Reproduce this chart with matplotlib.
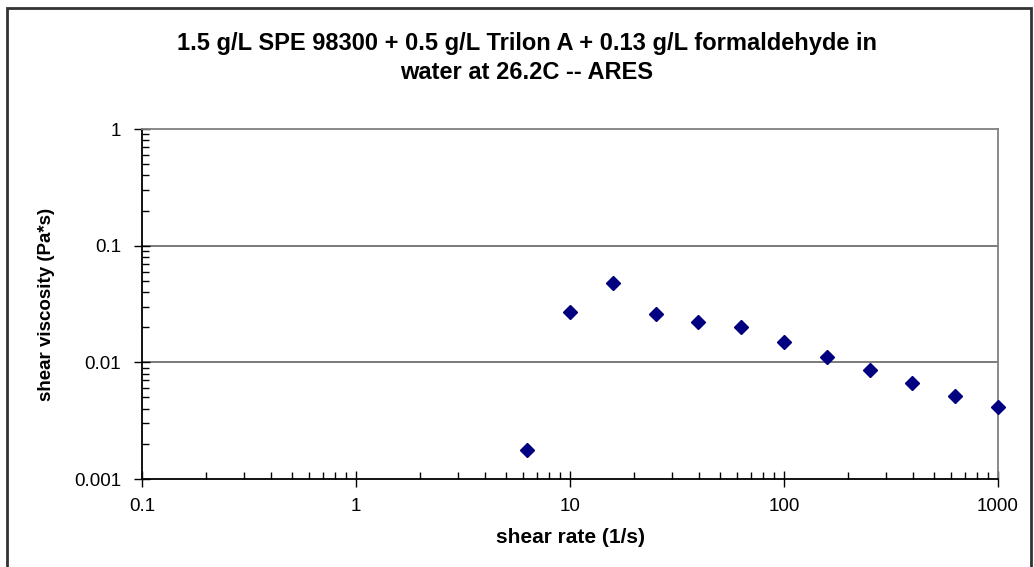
import numpy as np
import matplotlib.pyplot as plt
from matplotlib.ticker import FixedLocator, FuncFormatter, LogLocator, NullFormatter
from matplotlib.patches import Rectangle

plt.rcParams['font.family'] = ['Liberation Sans', 'DejaVu Sans']

# data
shear_rate = [6.31, 10.0, 15.85, 25.1, 39.8, 63.1, 100.0, 158.5, 251.0, 398.0, 631.0, 1000.0]
viscosity = [0.00179, 0.0269, 0.0476, 0.0262, 0.0220, 0.0202, 0.0148, 0.0111,
             0.00865, 0.00667, 0.00519, 0.00411]
x_ticks = [0.1, 1, 10, 100, 1000]
y_ticks = [0.001, 0.01, 0.1, 1]

title = '1.5 g/L SPE 98300 + 0.5 g/L Trilon A + 0.13 g/L formaldehyde in\nwater at 26.2C -- ARES'

W, H = 1034, 567
fig = plt.figure(figsize=(W / 100, H / 100), dpi=100)
ax = fig.add_axes([142 / W, 1 - 479 / H, (998 - 142) / W, (479 - 129) / H])

ax.set_xscale('log')
ax.set_yscale('log')
ax.set_xlim(0.1, 1000)
ax.set_ylim(0.001, 1)

for y in y_ticks[1:3]:
    ax.axhline(y, color='#707070', linewidth=1.3, zorder=1)

ax.plot(shear_rate, viscosity, linestyle='none', marker='D', markersize=7.5,
        color='#000080', clip_on=False, zorder=3)

fmt = FuncFormatter(lambda v, p: '%g' % v)
ax.xaxis.set_major_locator(FixedLocator(x_ticks))
ax.yaxis.set_major_locator(FixedLocator(y_ticks))
ax.xaxis.set_major_formatter(fmt)
ax.yaxis.set_major_formatter(fmt)
ax.xaxis.set_minor_locator(LogLocator(base=10, subs=np.arange(2, 10)))
ax.yaxis.set_minor_locator(LogLocator(base=10, subs=np.arange(2, 10)))
ax.xaxis.set_minor_formatter(NullFormatter())
ax.yaxis.set_minor_formatter(NullFormatter())
ax.tick_params(which='major', direction='inout', length=12, width=1, labelsize=13.5)
ax.tick_params(axis='x', which='major', pad=8)
ax.tick_params(axis='y', which='major', pad=9)
ax.tick_params(which='minor', direction='in', length=5, width=1)

for side in ['left', 'bottom']:
    ax.spines[side].set_color('black')
    ax.spines[side].set_linewidth(1.3)
for side in ['top', 'right']:
    ax.spines[side].set_color('#808080')
    ax.spines[side].set_linewidth(1.3)

ax.set_xlabel('shear rate (1/s)', fontsize=15, fontweight='bold', labelpad=9)
ax.set_ylabel('shear viscosity (Pa*s)', fontsize=13.5, fontweight='bold', labelpad=14)

fig.text(527 / W, 1 - 58 / H, title, ha='center', va='center', fontsize=17,
         fontweight='bold', linespacing=1.3)

# chart frame
fig.patches.append(Rectangle((7 / W, -0.05), (1031 - 7) / W, (H - 8) / H + 0.05,
                             transform=fig.transFigure, fill=False,
                             edgecolor='#333333', linewidth=2))

fig.savefig('out.png', dpi=100)
